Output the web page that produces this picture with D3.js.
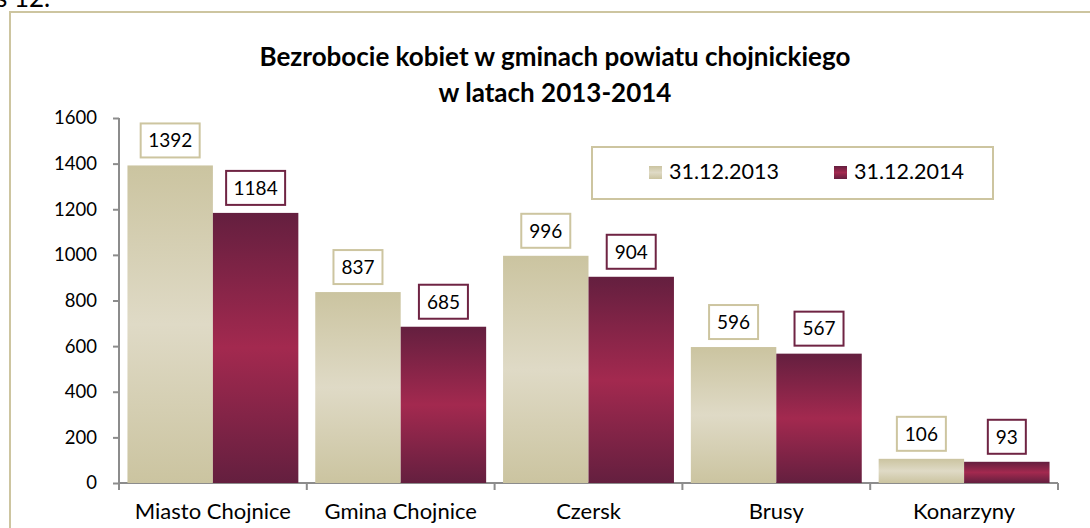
<!DOCTYPE html>
<html>
<head>
<meta charset="utf-8">
<script src="https://cdn.jsdelivr.net/npm/d3@7"></script>
<style>
  body { margin: 0; background: #fff; }
  svg text { font-family: Lato, "Open Sans", sans-serif; }
</style>
</head>
<body>
<div id="chart"></div>
<script>
// data
var categories = ["Miasto Chojnice", "Gmina Chojnice", "Czersk", "Brusy", "Konarzyny"];
var series = ["31.12.2013", "31.12.2014"];
var values2013 = [1392, 837, 996, 596, 106];
var values2014 = [1184, 685, 904, 567, 93];
var yTicks = [0, 200, 400, 600, 800, 1000, 1200, 1400, 1600];

var width = 1090, height = 528;
var svg = d3.select("#chart").append("svg")
    .attr("width", width)
    .attr("height", height);

var defs = svg.append("defs");
function addGrad(id, edge, mid) {
    var g = defs.append("linearGradient").attr("id", id)
        .attr("x1", 0).attr("y1", 0).attr("x2", 0).attr("y2", 1);
    g.append("stop").attr("offset", "0%").attr("stop-color", edge);
    g.append("stop").attr("offset", "50%").attr("stop-color", mid);
    g.append("stop").attr("offset", "100%").attr("stop-color", edge);
}
addGrad("g2013", "#cbc4a0", "#dfdac6");
addGrad("g2014", "#641f3f", "#a3294f");
var fills = ["url(#g2013)", "url(#g2014)"];
var strokes = ["#cdc5a0", "#6f2443"];

// caption cut off at the top (as in the source)
svg.append("text").attr("x", -4).attr("y", 7)
    .style("font-size", "26px").text("s 12.");

// outer frame
svg.append("rect").attr("x", 10).attr("y", 12)
    .attr("width", 1100).attr("height", 540)
    .attr("fill", "none").attr("stroke", "#cdc5a0").attr("stroke-width", 2);

// title
svg.append("text").attr("x", 555).attr("y", 66)
    .attr("text-anchor", "middle").style("font-size", "26px").style("font-weight", "bold")
    .text("Bezrobocie kobiet w gminach powiatu chojnickiego");
svg.append("text").attr("x", 555).attr("y", 102)
    .attr("text-anchor", "middle").style("font-size", "26px").style("font-weight", "bold")
    .text("w latach 2013-2014");

var x0 = d3.scaleBand().domain(categories).range([119, 1058]).paddingInner(0.09).paddingOuter(0.045);
var x1 = d3.scaleBand().domain(series).range([0, x0.bandwidth()]);
var y = d3.scaleLinear().domain([0, 1600]).range([483, 118]);

// axes
var yAxis = svg.append("g").attr("transform", "translate(119,0)")
    .call(d3.axisLeft(y).tickValues(yTicks).tickFormat(d3.format("d")).tickSize(6).tickPadding(16));
var xAxis = svg.append("g").attr("transform", "translate(0,483)")
    .call(d3.axisBottom(x0).tickSize(0).tickPadding(20));
[yAxis, xAxis].forEach(function(a) {
    a.select(".domain").attr("stroke", "#8c8c8c").attr("stroke-width", 2);
    a.selectAll(".tick line").attr("stroke", "#8c8c8c").attr("stroke-width", 2);
    a.selectAll("text").attr("fill", "#000");
});
yAxis.selectAll("text").style("font-size", "18.5px");
xAxis.selectAll("text").style("font-size", "22px");
yAxis.select(".domain").attr("d", "M0,118V483");
xAxis.select(".domain").attr("d", "M119,0H1058");
// category boundary ticks
var bounds = d3.range(categories.length + 1).map(function(i) { return 119 + i * (1058 - 119) / categories.length; });
xAxis.selectAll(".sep").data(bounds).enter().append("line")
    .attr("x1", function(d) { return d; }).attr("x2", function(d) { return d; })
    .attr("y1", 0).attr("y2", 7)
    .attr("stroke", "#8c8c8c").attr("stroke-width", 2);

// bars
var rows = categories.map(function(c, i) { return { cat: c, vals: [values2013[i], values2014[i]] }; });
var groups = svg.selectAll(".grp").data(rows).enter().append("g")
    .attr("transform", function(d) { return "translate(" + x0(d.cat) + ",0)"; });

groups.selectAll("rect.bar").data(function(d) { return d.vals; }).enter().append("rect")
    .attr("class", "bar")
    .attr("x", function(d, i) { return x1(series[i]); })
    .attr("y", function(d) { return y(d); })
    .attr("width", x1.bandwidth())
    .attr("height", function(d) { return 483 - y(d); })
    .attr("fill", function(d, i) { return fills[i]; });

// value labels
var lab = groups.selectAll("g.lab").data(function(d) { return d.vals; }).enter().append("g")
    .attr("class", "lab")
    .attr("transform", function(d, i) {
        return "translate(" + (x1(series[i]) + x1.bandwidth() / 2) + "," + (y(d) - 25) + ")";
    });
lab.append("rect")
    .attr("x", function(d) { return d >= 1000 ? -29.5 : (d >= 100 ? -24.5 : -19); })
    .attr("y", -17)
    .attr("width", function(d) { return d >= 1000 ? 59 : (d >= 100 ? 49 : 38); })
    .attr("height", 34)
    .attr("fill", "#fff")
    .attr("stroke", function(d, i) { return strokes[i]; })
    .attr("stroke-width", 2);
lab.append("text").attr("text-anchor", "middle").attr("dy", "0.36em")
    .style("font-size", "19px").text(function(d) { return d; });

// legend
var legend = svg.append("g").attr("transform", "translate(592,147)");
legend.append("rect").attr("width", 401).attr("height", 52)
    .attr("fill", "#fff").attr("stroke", "#cdc5a0").attr("stroke-width", 2);
var legX = [57, 242];
series.forEach(function(s, i) {
    legend.append("rect").attr("x", legX[i]).attr("y", 19).attr("width", 13).attr("height", 13)
        .attr("fill", fills[i]);
    legend.append("text").attr("x", legX[i] + 20).attr("y", 32)
        .style("font-size", "21.5px").text(s);
});
</script>
</body>
</html>
